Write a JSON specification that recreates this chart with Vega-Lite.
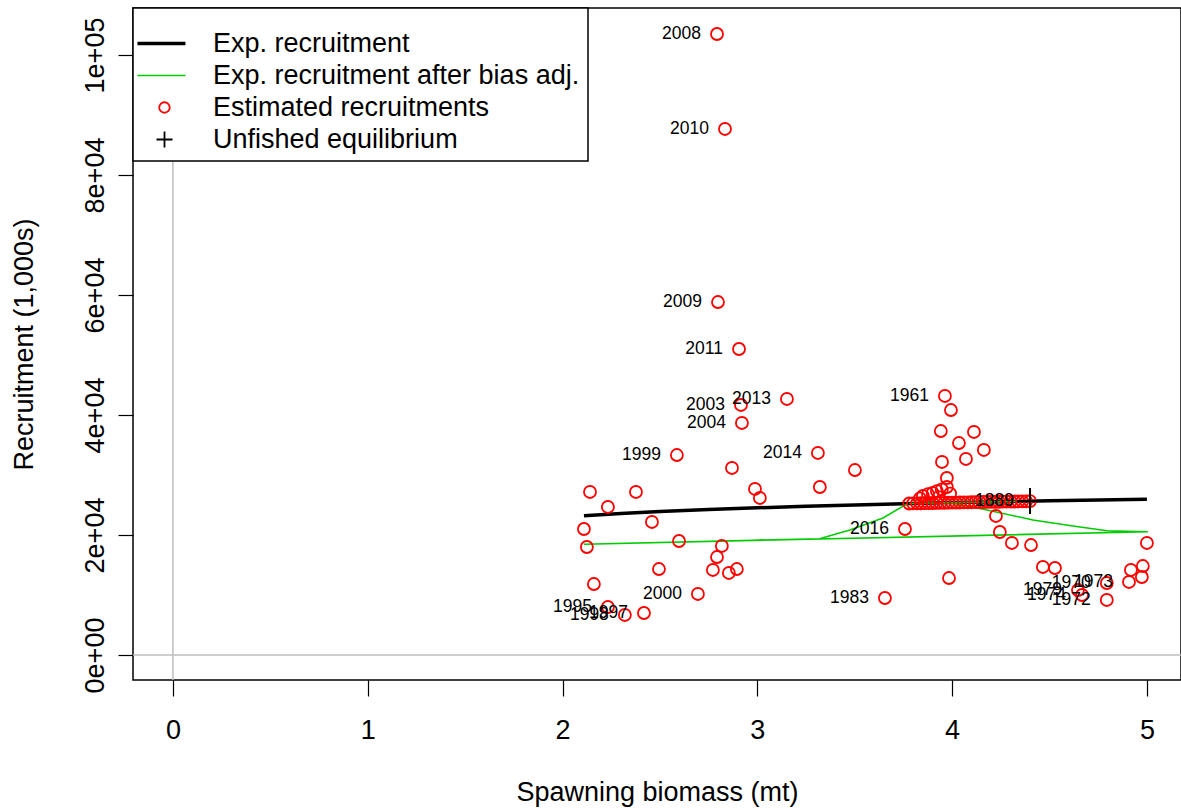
{
  "$schema": "https://vega.github.io/schema/vega-lite/v6.json",
  "width": 1048,
  "height": 672,
  "autosize": "none",
  "padding": {"left": 133, "top": 8, "right": 0, "bottom": 130},
  "config": {
    "font": "Liberation Sans",
    "view": {"stroke": "black", "strokeWidth": 1.5},
    "axis": {"grid": false, "domain": false, "tickColor": "black", "tickWidth": 1.2, "tickSize": 15, "labelColor": "black", "labelFontSize": 27, "titleFontSize": 27, "titleFontWeight": "normal", "titleColor": "black", "labelFont": "Liberation Sans", "titleFont": "Liberation Sans"}
  },
  "datasets": {
    "expR": [
      {"x": 2.11, "y": 23220}, {"x": 2.3, "y": 23600}, {"x": 2.5, "y": 23930}, {"x": 2.75, "y": 24250},
      {"x": 3.0, "y": 24530}, {"x": 3.25, "y": 24780}, {"x": 3.5, "y": 24990}, {"x": 3.75, "y": 25220},
      {"x": 4.0, "y": 25400}, {"x": 4.25, "y": 25560}, {"x": 4.5, "y": 25700}, {"x": 4.75, "y": 25830},
      {"x": 5.0, "y": 25950}
    ],
    "adjR": [
      {"o": 1, "x": 4.40, "y": 25650}, {"o": 2, "x": 3.78, "y": 25250}, {"o": 3, "x": 3.99, "y": 25390},
      {"o": 4, "x": 4.179, "y": 24170}, {"o": 5, "x": 4.415, "y": 22500}, {"o": 6, "x": 4.62, "y": 21500},
      {"o": 7, "x": 4.795, "y": 20720}, {"o": 8, "x": 5.005, "y": 20550}, {"o": 9, "x": 2.11, "y": 18450},
      {"o": 10, "x": 3.32, "y": 19370}, {"o": 11, "x": 3.475, "y": 20830}, {"o": 12, "x": 3.645, "y": 22830},
      {"o": 13, "x": 3.773, "y": 25280}
    ],
    "recr": [
      {"x": 2.793, "y": 103500, "label": "2008"}, {"x": 2.834, "y": 87670, "label": "2010"},
      {"x": 2.798, "y": 58830, "label": "2009"}, {"x": 2.906, "y": 51000, "label": "2011"},
      {"x": 3.152, "y": 42670, "label": "2013"}, {"x": 2.916, "y": 41670, "label": "2003"},
      {"x": 2.921, "y": 38670, "label": "2004"}, {"x": 2.587, "y": 33330, "label": "1999"},
      {"x": 3.311, "y": 33670, "label": "2014"}, {"x": 3.963, "y": 43170, "label": "1961"},
      {"x": 3.758, "y": 21000, "label": "2016"}, {"x": 2.695, "y": 10170, "label": "2000"},
      {"x": 3.655, "y": 9500, "label": "1983"}, {"x": 2.233, "y": 8000, "label": "1995"},
      {"x": 2.32, "y": 6670, "label": "1998"}, {"x": 2.418, "y": 7000, "label": "1997"},
      {"x": 4.794, "y": 12000, "label": "1970"}, {"x": 4.908, "y": 12170, "label": "1973"},
      {"x": 4.646, "y": 10830, "label": "1979"}, {"x": 4.667, "y": 10000, "label": "1974"},
      {"x": 4.794, "y": 9170, "label": "1972"},
      {"x": 2.870, "y": 31170, "label": ""}, {"x": 2.377, "y": 27170, "label": ""},
      {"x": 2.988, "y": 27670, "label": ""}, {"x": 3.321, "y": 28000, "label": ""},
      {"x": 3.013, "y": 26170, "label": ""}, {"x": 2.141, "y": 27170, "label": ""},
      {"x": 2.233, "y": 24670, "label": ""}, {"x": 3.501, "y": 30830, "label": ""},
      {"x": 2.459, "y": 22170, "label": ""}, {"x": 2.110, "y": 21000, "label": ""},
      {"x": 2.125, "y": 18000, "label": ""}, {"x": 2.598, "y": 19000, "label": ""},
      {"x": 2.818, "y": 18170, "label": ""}, {"x": 2.793, "y": 16330, "label": ""},
      {"x": 2.495, "y": 14330, "label": ""}, {"x": 2.772, "y": 14170, "label": ""},
      {"x": 2.854, "y": 13670, "label": ""}, {"x": 2.895, "y": 14330, "label": ""},
      {"x": 2.161, "y": 11830, "label": ""},
      {"x": 3.942, "y": 37330, "label": ""}, {"x": 3.994, "y": 40830, "label": ""},
      {"x": 4.112, "y": 37170, "label": ""}, {"x": 4.035, "y": 35330, "label": ""},
      {"x": 4.163, "y": 34170, "label": ""}, {"x": 4.071, "y": 32670, "label": ""},
      {"x": 3.948, "y": 32170, "label": ""}, {"x": 4.225, "y": 23170, "label": ""},
      {"x": 4.245, "y": 20500, "label": ""}, {"x": 4.307, "y": 18670, "label": ""},
      {"x": 4.405, "y": 18330, "label": ""}, {"x": 4.466, "y": 14670, "label": ""},
      {"x": 4.528, "y": 14500, "label": ""}, {"x": 3.984, "y": 12830, "label": ""},
      {"x": 5.0, "y": 18670, "label": ""}, {"x": 4.918, "y": 14170, "label": ""},
      {"x": 4.979, "y": 14830, "label": ""}, {"x": 4.974, "y": 13000, "label": ""},
      {"x": 3.973, "y": 29500, "label": ""}, {"x": 3.973, "y": 28000, "label": ""},
      {"x": 3.947, "y": 27600, "label": ""}, {"x": 3.922, "y": 27300, "label": ""},
      {"x": 3.90, "y": 27000, "label": ""}, {"x": 3.876, "y": 26800, "label": ""},
      {"x": 3.85, "y": 26500, "label": ""}, {"x": 3.835, "y": 26100, "label": ""},
      {"x": 3.99, "y": 26900, "label": ""}, {"x": 3.93, "y": 26300, "label": ""},
      {"x": 3.78, "y": 25250, "label": ""}, {"x": 3.80, "y": 25260, "label": ""},
      {"x": 3.82, "y": 25280, "label": ""}, {"x": 3.84, "y": 25290, "label": ""},
      {"x": 3.86, "y": 25300, "label": ""}, {"x": 3.88, "y": 25320, "label": ""},
      {"x": 3.90, "y": 25330, "label": ""}, {"x": 3.92, "y": 25340, "label": ""},
      {"x": 3.94, "y": 25360, "label": ""}, {"x": 3.96, "y": 25370, "label": ""},
      {"x": 3.98, "y": 25380, "label": ""}, {"x": 4.00, "y": 25400, "label": ""},
      {"x": 4.02, "y": 25410, "label": ""}, {"x": 4.04, "y": 25420, "label": ""},
      {"x": 4.06, "y": 25440, "label": ""}, {"x": 4.08, "y": 25450, "label": ""},
      {"x": 4.10, "y": 25460, "label": ""}, {"x": 4.12, "y": 25470, "label": ""},
      {"x": 4.14, "y": 25480, "label": ""}, {"x": 4.16, "y": 25500, "label": ""},
      {"x": 4.18, "y": 25510, "label": ""}, {"x": 4.20, "y": 25520, "label": ""},
      {"x": 4.22, "y": 25530, "label": ""}, {"x": 4.24, "y": 25540, "label": ""},
      {"x": 4.26, "y": 25550, "label": ""}, {"x": 4.28, "y": 25560, "label": ""},
      {"x": 4.30, "y": 25570, "label": ""}, {"x": 4.32, "y": 25580, "label": ""},
      {"x": 4.34, "y": 25600, "label": ""}, {"x": 4.36, "y": 25610, "label": ""},
      {"x": 4.38, "y": 25620, "label": ""}, {"x": 4.40, "y": 25650, "label": "1889"}
    ],
    "unfished": [{"x": 4.40, "y": 25650}],
    "ref": [{"v": 0}]
  },
  "encoding": {
    "x": {"type": "quantitative", "scale": {"domain": [-0.205, 5.175], "nice": false, "zero": false}},
    "y": {"type": "quantitative", "scale": {"domain": [-4167, 107833], "nice": false, "zero": false}}
  },
  "layer": [
    {
      "data": {"name": "ref"},
      "mark": {"type": "rule", "color": "#BEBEBE", "strokeWidth": 1.5},
      "encoding": {"x": {"field": "v", "type": "quantitative", "axis": {"values": [0, 1, 2, 3, 4, 5], "format": "d", "title": "Spawning biomass (mt)", "labelPadding": 21, "titlePadding": 36, "tickSize": 16}}}
    },
    {
      "data": {"name": "ref"},
      "mark": {"type": "rule", "color": "#BEBEBE", "strokeWidth": 1.5},
      "encoding": {"y": {"field": "v", "type": "quantitative", "axis": {"values": [0, 20000, 40000, 60000, 80000, 100000], "title": "Recruitment (1,000s)", "labelAngle": -90, "labelAlign": "center", "labelBaseline": "bottom", "labelPadding": 9, "titlePadding": 43, "labelExpr": "replace(format(datum.value, '.0e'), 'e+', 'e+0')"}}}
    },
    {
      "data": {"name": "expR"},
      "mark": {"type": "line", "strokeWidth": 3.5},
      "encoding": {
        "x": {"field": "x", "type": "quantitative"},
        "y": {"field": "y", "type": "quantitative"},
        "color": {"datum": "Exp. recruitment", "type": "nominal",
          "scale": {"domain": ["Exp. recruitment", "Exp. recruitment after bias adj.", "Estimated recruitments", "Unfished equilibrium"], "range": ["black", "#00CD00", "red", "black"]},
          "legend": {
            "title": " ", "titleFontSize": 12, "titlePadding": 2,
            "orient": "top-left", "offset": 0, "padding": 8, "direction": "vertical",
            "strokeColor": "black", "fillColor": "white",
            "symbolSize": 2304, "symbolType": "stroke", "symbolStrokeWidth": 3,
            "labelFontSize": 27, "labelColor": "black", "labelOffset": 45, "labelLimit": 1000, "labelFont": "Liberation Sans",
            "rowPadding": 4,
            "encode": {
              "symbols": {"update": {
                "shape": {"signal": "datum.value === 'Estimated recruitments' ? 'M2.9,0A1,1 0 1,1 0.9,0A1,1 0 1,1 2.9,0' : datum.value === 'Unfished equilibrium' ? 'M0.25,0H2.25M1.25,-1V1' : 'M-0.71,0H1.29'"},
                "size": {"signal": "datum.value === 'Estimated recruitments' ? 110 : datum.value === 'Unfished equilibrium' ? 256 : 2304"},
                "strokeWidth": {"signal": "datum.value === 'Exp. recruitment' ? 3.5 : datum.value === 'Exp. recruitment after bias adj.' ? 1.5 : 1.8"},
                "stroke": {"signal": "datum.value === 'Exp. recruitment after bias adj.' ? '#00CD00' : datum.value === 'Estimated recruitments' ? 'red' : 'black'"},
                "fill": {"value": "transparent"},
                "opacity": {"value": 1}
              }},
              "legend": {"update": {"strokeWidth": {"value": 1.5}}}
            }
          }
        }
      }
    },
    {
      "data": {"name": "adjR"},
      "mark": {"type": "line", "strokeWidth": 1.6},
      "encoding": {
        "x": {"field": "x", "type": "quantitative"},
        "y": {"field": "y", "type": "quantitative"},
        "order": {"field": "o", "type": "quantitative"},
        "color": {"datum": "Exp. recruitment after bias adj.", "type": "nominal"}
      }
    },
    {
      "data": {"name": "recr"},
      "mark": {"type": "point", "shape": "circle", "filled": false, "size": 144, "strokeWidth": 1.8, "opacity": 1},
      "encoding": {
        "x": {"field": "x", "type": "quantitative"},
        "y": {"field": "y", "type": "quantitative"},
        "color": {"datum": "Estimated recruitments", "type": "nominal"}
      }
    },
    {
      "data": {"name": "unfished"},
      "mark": {"type": "point", "shape": "M-1,0H1M0,-1V1", "filled": false, "size": 676, "strokeWidth": 2, "opacity": 1},
      "encoding": {
        "x": {"field": "x", "type": "quantitative"},
        "y": {"field": "y", "type": "quantitative"},
        "color": {"datum": "Unfished equilibrium", "type": "nominal"}
      }
    },
    {
      "data": {"name": "recr"},
      "transform": [{"filter": "datum.label !== ''"}],
      "mark": {"type": "text", "align": "right", "baseline": "middle", "dx": -16, "fontSize": 17.5, "font": "Liberation Sans", "color": "black"},
      "encoding": {
        "x": {"field": "x", "type": "quantitative"},
        "y": {"field": "y", "type": "quantitative"},
        "text": {"field": "label"}
      }
    }
  ]
}
